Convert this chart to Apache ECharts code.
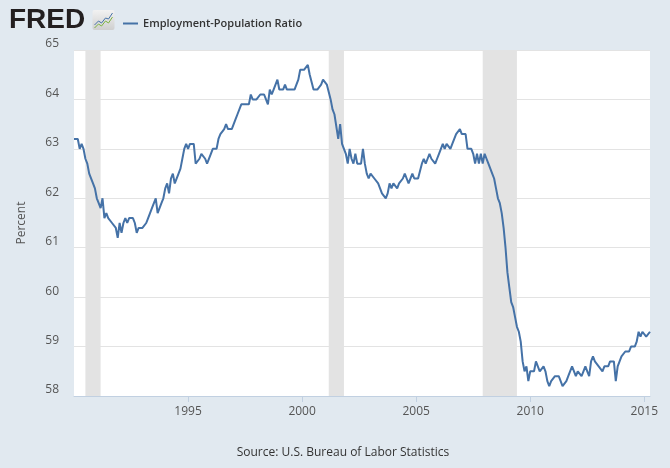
<!DOCTYPE html>
<html><head><meta charset="utf-8">
<script src="https://cdn.jsdelivr.net/npm/echarts@6/dist/echarts.min.js"></script>
<style>html,body{margin:0;padding:0;background:#e1e9f0;}#c{width:670px;height:468px;}</style>
</head><body><div id="c"></div>
<script>
// Employment-Population Ratio (Percent), monthly, Jan 1990 - Apr 2015
const y1990 = [63.2,63.2,63.2,63.0,63.1,63.0,62.8,62.7,62.5,62.5,62.3,62.2];
const y1991 = [62.0,61.9,61.8,62.0,61.6,61.7,61.6,61.6,61.5,61.5,61.4,61.2];
const y1992 = [61.5,61.3,61.5,61.6,61.5,61.6,61.6,61.6,61.5,61.3,61.4,61.4];
const y1993 = [61.4,61.4,61.5,61.6,61.7,61.8,61.8,62.0,61.7,61.8,61.9,62.0];
const y1994 = [62.2,62.3,62.1,62.4,62.5,62.3,62.3,62.5,62.6,62.8,63.0,63.1];
const y1995 = [63.0,63.1,63.1,63.1,62.7,62.7,62.8,62.9,62.9,62.8,62.7,62.7];
const y1996 = [62.9,63.0,63.0,63.0,63.2,63.3,63.3,63.4,63.5,63.4,63.4,63.4];
const y1997 = [63.4,63.6,63.7,63.7,63.9,63.9,63.9,63.9,63.9,64.1,64.0,64.0];
const y1998 = [64.0,64.0,64.1,64.1,64.1,64.0,63.9,64.2,64.1,64.2,64.3,64.4];
const y1999 = [64.2,64.2,64.2,64.3,64.2,64.2,64.2,64.2,64.2,64.3,64.4,64.6];
const y2000 = [64.6,64.6,64.6,64.7,64.5,64.5,64.2,64.2,64.2,64.2,64.3,64.4];
const y2001 = [64.4,64.3,64.3,64.0,63.8,63.7,63.7,63.2,63.5,63.1,63.0,62.9];
const y2002 = [62.7,63.0,62.8,62.7,62.9,62.7,62.7,62.7,63.0,62.7,62.5,62.4];
const y2003 = [62.5,62.5,62.4,62.4,62.3,62.3,62.1,62.1,62.0,62.1,62.3,62.2];
const y2004 = [62.3,62.3,62.2,62.3,62.3,62.4,62.5,62.4,62.3,62.3,62.5,62.4];
const y2005 = [62.4,62.4,62.4,62.7,62.8,62.7,62.8,62.9,62.8,62.8,62.7,62.8];
const y2006 = [62.9,63.0,63.1,63.0,63.1,63.1,63.0,63.1,63.1,63.3,63.3,63.4];
const y2007 = [63.3,63.3,63.3,63.0,63.0,63.0,62.9,62.7,62.9,62.7,62.9,62.7];
const y2008 = [62.9,62.8,62.7,62.7,62.5,62.4,62.2,62.0,61.9,61.7,61.4,61.0];
const y2009 = [60.5,60.2,59.9,59.8,59.6,59.4,59.3,59.1,58.7,58.5,58.6,58.3];
const y2010 = [58.5,58.5,58.5,58.7,58.6,58.5,58.5,58.6,58.5,58.3,58.2,58.3];
const y2011 = [58.3,58.4,58.4,58.4,58.3,58.2,58.2,58.3,58.4,58.4,58.6,58.6];
const y2012 = [58.4,58.5,58.5,58.4,58.5,58.6,58.5,58.4,58.7,58.8,58.7,58.7];
const y2013 = [58.6,58.6,58.5,58.6,58.6,58.6,58.7,58.7,58.7,58.3,58.6,58.7];
const y2014 = [58.8,58.8,58.9,58.9,58.9,59.0,59.0,59.0,59.1,59.3,59.2,59.3];
const y2015 = [59.3,59.2,59.2,59.3];

const years = [1990,1991,1992,1993,1994,1995,1996,1997,1998,1999,2000,2001,2002,2003,2004,2005,2006,2007,2008,2009,2010,2011,2012,2013,2014,2015];
const yearValues = [y1990,y1991,y1992,y1993,y1994,y1995,y1996,y1997,y1998,y1999,y2000,y2001,y2002,y2003,y2004,y2005,y2006,y2007,y2008,y2009,y2010,y2011,y2012,y2013,y2014,y2015];

// recessions (start month, end month)
const recessionStarts = ['1990-07','2001-03','2007-12'];
const recessionEnds   = ['1991-03','2001-11','2009-06'];

const xTickLabels = [1995,2000,2005,2010,2015];
const seriesName = 'Employment-Population Ratio';

function ym(s){ const p = s.split('-'); return +p[0] + (+p[1]-1)/12; }

const data = [];
years.forEach((y,i)=>{ yearValues[i].forEach((v,m)=>{ data.push([y + m/12, v]); }); });
const xMin = data[0][0], xMax = data[data.length-1][0];

const chart = echarts.init(document.getElementById('c'));
const FONT = '"Open Sans", "DejaVu Sans", sans-serif';
chart.setOption({
  backgroundColor: '#e1e9f0',
  animation: false,
  textStyle: { fontFamily: FONT },
  grid: { left: 74, right: 20, top: 50, bottom: 72, show: true, backgroundColor: '#ffffff', borderWidth: 0 },
  legend: {
    left: 118, top: 13, itemWidth: 15, itemHeight: 2, itemGap: 10,
    icon: 'rect',
    textStyle: { fontSize: 11, fontWeight: 600, color: '#333', fontFamily: FONT },
    data: [seriesName]
  },
  xAxis: {
    type: 'value', min: xMin, max: xMax,
    axisLine: { show: true, lineStyle: { color: '#c1d0e1', width: 1 } },
    axisTick: { show: true, length: 6, lineStyle: { color: '#c1d0e1' }, customValues: xTickLabels },
    axisLabel: { color: '#555', fontSize: 12, margin: 10, customValues: xTickLabels, formatter: v => String(Math.round(v)) },
    splitLine: { show: false }
  },
  yAxis: {
    type: 'value', min: 58, max: 65, interval: 1,
    name: 'Percent', nameLocation: 'middle', nameGap: 46,
    nameTextStyle: { color: '#555', fontSize: 12 },
    axisLine: { show: false }, axisTick: { show: false },
    axisLabel: { color: '#555', fontSize: 12, margin: 15, verticalAlign: 'bottom' },
    splitLine: { lineStyle: { color: '#e3e3e3', width: 1 } }
  },
  series: [{
    name: seriesName, type: 'line', data: data, showSymbol: false, symbol: 'none',
    lineStyle: { color: '#4572a7', width: 2 }, itemStyle: { color: '#4572a7' },
    z: 3,
    markArea: {
      silent: true,
      itemStyle: { color: '#e3e3e3' },
      data: recessionStarts.map((s,i)=>[{ xAxis: ym(s) }, { xAxis: ym(recessionEnds[i]) }])
    }
  }],
  graphic: [
    { type: 'text', left: 9, top: 6, style: { text: 'FRED', font: '900 28px "Liberation Sans", Arial, sans-serif', fill: '#231f20' } },
    { type: 'group', left: 92, top: 10, children: [
      { type: 'rect', shape: { x: 0, y: 0, width: 22, height: 20, r: 2 },
        style: { fill: new echarts.graphic.LinearGradient(0,0,0,1,[{offset:0,color:'#f2f2f2'},{offset:1,color:'#cfcfcf'}]) } },
      { type: 'polyline', shape: { points: [[2,15],[6,11],[9,13],[13,8],[16,9],[20,3]] }, style: { stroke: '#4572a7', lineWidth: 1, fill: null } },
      { type: 'polyline', shape: { points: [[2,18],[6,14],[9,16],[13,11],[16,13],[20,7]] }, style: { stroke: '#7cb342', lineWidth: 1, fill: null } }
    ]},
    { type: 'text', x: 343, y: 453, style: { text: 'Source: U.S. Bureau of Labor Statistics', font: '12px "Open Sans", sans-serif', fill: '#333', textAlign: 'center', textVerticalAlign: 'middle' } }
  ]
});
</script>
</body></html>
